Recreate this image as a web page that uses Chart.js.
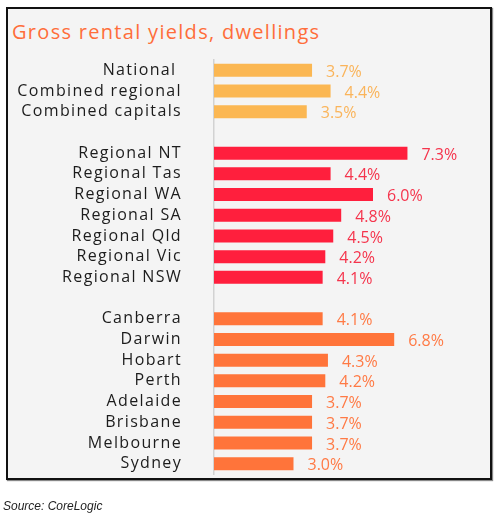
<!DOCTYPE html>
<html>
<head>
<meta charset="utf-8">
<script src="https://cdn.jsdelivr.net/npm/chart.js@4.4.1/dist/chart.umd.min.js"></script>
<style>
  html, body { margin: 0; padding: 0; background: #ffffff; }
  #wrap { position: relative; width: 501px; height: 518px; overflow: hidden; }
  #box { position: absolute; left: 6px; top: 7px; width: 482px; height: 469px;
         border: 2px solid #111; background: #f4f4f4; box-shadow: 1px 1px 1px #888; }
  #title { position: absolute; left: 12px; top: 21px; font-family: "Open Sans", sans-serif;
           font-size: 20px; line-height: 22px; letter-spacing: 1.3px; color: #ff6d3a; white-space: nowrap; }
  #source { position: absolute; left: 3px; top: 499px; font-family: "Liberation Sans", Arial, sans-serif;
            font-style: italic; font-size: 12px; line-height: 14px; color: #222; white-space: nowrap; }
  canvas { position: absolute; left: 0; top: 0; }
</style>
</head>
<body>
<div id="wrap">
  <div id="box"></div>
  <div id="title">Gross rental yields, dwellings</div>
  <canvas id="c" width="501" height="518"></canvas>
  <div id="source">Source: CoreLogic</div>
</div>
<script>
// ---- data ----
const categories = ["National ", "Combined regional", "Combined capitals", "",
  "Regional NT", "Regional Tas", "Regional WA", "Regional SA", "Regional Qld", "Regional Vic", "Regional NSW", "",
  "Canberra", "Darwin", "Hobart", "Perth", "Adelaide", "Brisbane", "Melbourne", "Sydney"];
const yields = [3.7, 4.4, 3.5, null,
  7.3, 4.4, 6.0, 4.8, 4.5, 4.2, 4.1, null,
  4.1, 6.8, 4.3, 4.2, 3.7, 3.7, 3.7, 3.0];
const groups = ["combined", "combined", "combined", null,
  "regional", "regional", "regional", "regional", "regional", "regional", "regional", null,
  "capital", "capital", "capital", "capital", "capital", "capital", "capital", "capital"];

// ---- styles ----
const barColors = { combined: "#fbb752", regional: "#ff1f3d", capital: "#ff743a" };
const labelColors = { combined: "#fab45a", regional: "#f5344c", capital: "#ff7a45" };
const FONT = "Open Sans";

const spacing = {
  id: "spacing",
  beforeDraw(chart) { chart.ctx.letterSpacing = "1.35px"; },
  afterDraw(chart) { chart.ctx.letterSpacing = "0px"; }
};

const valueLabels = {
  id: "valueLabels",
  afterDatasetsDraw(chart) {
    const ctx = chart.ctx;
    const meta = chart.getDatasetMeta(0);
    ctx.save();
    ctx.letterSpacing = "0px";
    ctx.font = "16px '" + FONT + "'";
    ctx.textAlign = "left";
    ctx.textBaseline = "middle";
    meta.data.forEach((bar, i) => {
      const v = yields[i];
      if (v === null || v === undefined) return;
      ctx.fillStyle = labelColors[groups[i]];
      ctx.fillText(v.toFixed(1) + "%", bar.x + 14, bar.y + 2);
    });
    ctx.restore();
  }
};

new Chart(document.getElementById("c"), {
  type: "bar",
  data: {
    labels: categories,
    datasets: [{
      data: yields,
      backgroundColor: groups.map(g => g ? barColors[g] : "transparent"),
      borderWidth: 0,
      categoryPercentage: 1,
      barPercentage: 0.63
    }]
  },
  options: {
    indexAxis: "y",
    responsive: false,
    animation: false,
    devicePixelRatio: 1,
    layout: { padding: { left: 14, top: 60, right: 22, bottom: 44 } },
    plugins: { legend: { display: false }, tooltip: { enabled: false }, title: { display: false } },
    scales: {
      x: { display: false, min: 0, max: 10 },
      y: {
        afterFit: s => { s.width = 200; },
        grid: { display: false, drawTicks: false },
        border: { display: true, color: "#d2d2d2", width: 1.5 },
        ticks: { padding: 32, color: "#1c1c1c", font: { family: FONT, size: 16 }, autoSkip: false }
      }
    }
  },
  plugins: [spacing, valueLabels]
});
</script>
</body>
</html>
